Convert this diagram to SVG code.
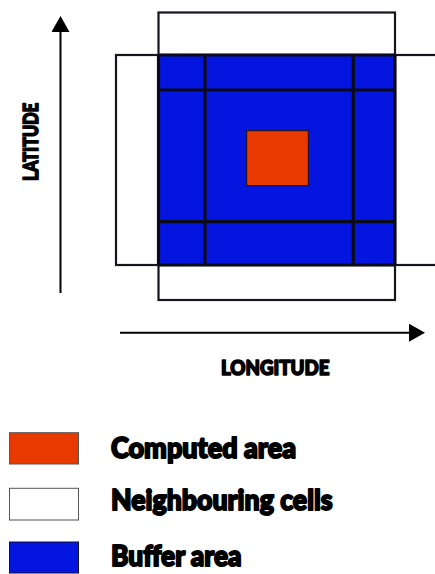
<svg xmlns="http://www.w3.org/2000/svg" width="435" height="574" viewBox="0 0 435 574">
  <style>
    .cell { fill: #ffffff; stroke: #15151f; stroke-width: 2.2; }
    .buf { fill: #0515e0; stroke: none; }
    .grid { stroke: #0a0a18; stroke-width: 3.2; fill: none; }
    .axis { stroke: #000000; stroke-width: 2; fill: none; }
    .lbl { font-family: Lato, "Open Sans", "Liberation Sans", sans-serif; font-weight: 900; fill: #000000; stroke: #000000; stroke-width: 1.9; stroke-linejoin: round; }
    .lbl.sm { stroke-width: 1.6; }
    .leg { stroke: #555555; stroke-width: 1; }
  </style>
  <defs>
    <marker id="arrow" viewBox="0 0 16 18" refX="1" refY="9" markerWidth="16" markerHeight="18" markerUnits="userSpaceOnUse" orient="auto">
      <path d="M0,0 L16,9 L0,18 Z" fill="#000000"/>
    </marker>
  </defs>

  <g id="neighbouring-cells">
    <rect class="cell" x="158.5" y="12.5" width="236.5" height="287.5"/>
    <rect class="cell" x="116" y="55" width="330" height="210"/>
  </g>

  <g id="buffer-area">
    <rect class="buf" x="158.5" y="55" width="236.5" height="210"/>
    <path class="grid" d="M158.5,55 H395 M158.5,265 H395 M158.5,55 V265 M395,55 V265 M158.5,90 H395 M158.5,221.7 H395 M205,55 V265 M353.3,55 V265"/>
  </g>

  <g id="computed-area">
    <rect x="246.7" y="130.7" width="61.6" height="55" fill="#e83a00" stroke="#1a1010" stroke-width="1"/>
  </g>

  <g id="connectors">
    <line class="axis" x1="60.5" y1="293" x2="60.5" y2="31" marker-end="url(#arrow)"/>
    <line class="axis" x1="120" y1="332.7" x2="410" y2="332.7" marker-end="url(#arrow)"/>
  </g>

  <g id="latitude-label">
    <text class="lbl sm" transform="translate(38,141.7) rotate(-90)" text-anchor="middle" font-size="21" textLength="78" lengthAdjust="spacingAndGlyphs">LATITUDE</text>
  </g>
  <g id="longitude-label">
    <text class="lbl sm" x="221" y="374.5" font-size="20" textLength="108.5" lengthAdjust="spacingAndGlyphs">LONGITUDE</text>
  </g>

  <g id="legend-computed">
    <rect class="leg" x="9.5" y="432.7" width="69" height="31.3" fill="#e83a00"/>
    <text class="lbl" x="111" y="457.5" font-size="28" textLength="185" lengthAdjust="spacingAndGlyphs">Computed area</text>
  </g>
  <g id="legend-neighbouring">
    <rect class="leg" x="9.5" y="488.3" width="69" height="31.7" fill="#ffffff"/>
    <text class="lbl" x="111" y="510.3" font-size="28" textLength="221.5" lengthAdjust="spacingAndGlyphs">Neighbouring cells</text>
  </g>
  <g id="legend-buffer">
    <rect x="9.5" y="542" width="69" height="31" fill="#0515e0" stroke="#111133" stroke-width="1"/>
    <text class="lbl" x="111" y="565.5" font-size="28" textLength="130.5" lengthAdjust="spacingAndGlyphs">Buffer area</text>
  </g>
</svg>
